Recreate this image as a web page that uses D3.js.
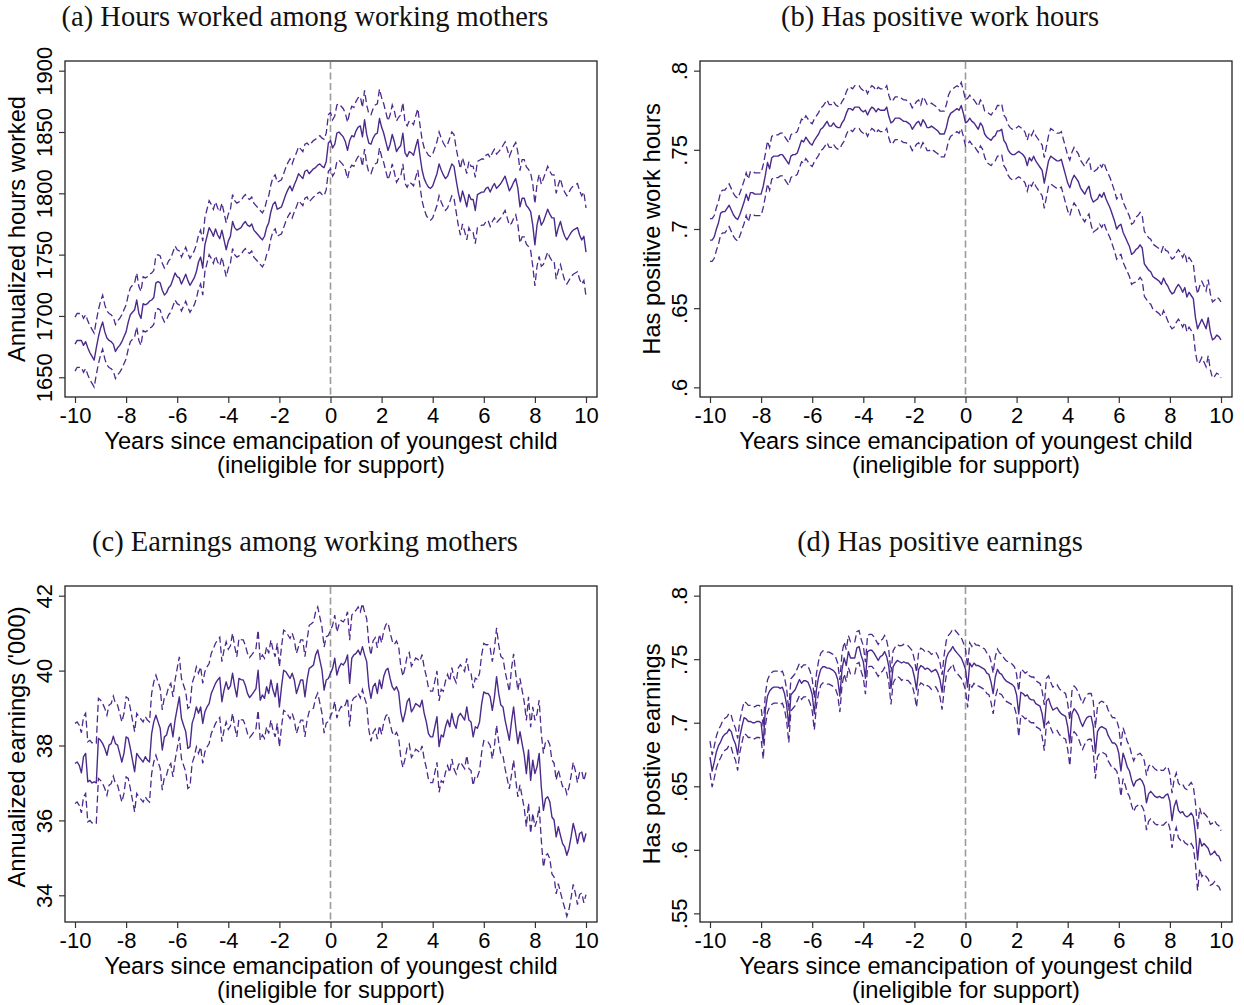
<!DOCTYPE html>
<html>
<head>
<meta charset="utf-8">
<script src="https://cdn.jsdelivr.net/npm/d3@7"></script>
<style>
  html, body { margin: 0; padding: 0; background: #fff; }
  svg { display: block; }
</style>
</head>
<body>
<svg id="fig" width="1244" height="1005"></svg>
<script>
// Event time in months around the youngest child's emancipation (-10 .. +10 years).
const months = d3.range(-120, 121);

// x-axis ticks (years)
const yearTicks = [-10, -8, -6, -4, -2, 0, 2, 4, 6, 8, 10];

// (a) Annualized hours worked among working mothers: estimate and 95% CI half-width
const hoursEst = [
  1677,1680,1680,1680,1676,1679,1674,1670,1667,1664,
  1674,1683,1690,1695,1687,1682,1680,1679,1677,1671,
  1674,1676,1679,1683,1687,1695,1701,1703,1705,1713,
  1702,1698,1710,1709,1710,1712,1713,1715,1727,1728,
  1727,1721,1717,1719,1723,1725,1730,1735,1732,1731,
  1726,1730,1734,1729,1725,1728,1731,1736,1744,1748,
  1739,1758,1765,1772,1769,1765,1771,1766,1763,1770,
  1762,1754,1761,1765,1777,1772,1770,1771,1772,1775,
  1777,1774,1773,1775,1770,1768,1766,1764,1762,1765,
  1772,1776,1785,1791,1793,1787,1788,1789,1794,1799,
  1803,1806,1802,1807,1811,1816,1814,1812,1818,1819,
  1816,1818,1820,1821,1823,1824,1822,1821,1826,1841,
  1843,1837,1840,1849,1850,1848,1846,1842,1835,1843,
  1847,1846,1851,1854,1855,1846,1860,1848,1841,1840,
  1845,1848,1849,1861,1854,1849,1842,1835,1840,1848,
  1842,1834,1837,1839,1849,1833,1830,1834,1833,1831,
  1838,1844,1831,1819,1812,1808,1805,1804,1806,1811,
  1816,1824,1819,1815,1812,1814,1819,1824,1822,1811,
  1801,1793,1802,1796,1789,1799,1795,1795,1786,1799,
  1800,1801,1801,1804,1805,1801,1805,1808,1804,1806,
  1808,1811,1814,1808,1802,1805,1809,1812,1804,1789,
  1796,1796,1790,1788,1785,1774,1758,1774,1782,1774,
  1777,1782,1787,1783,1780,1780,1765,1772,1777,1770,
  1765,1762,1765,1768,1770,1771,1772,1766,1762,1765,
  1752
];
const hoursCI = [
  22,22,22,22,22,22,22,22,22,22,22,22,22,22,22,22,22,22,22,22,
  22,22,22,22,22,22,22,22,22,22,22,22,22,22,22,22,22,22,22,22,
  22,22,22,22,22,22,22,22,22,22,22,22,22,22,22,22,22,22,22,22,
  22,22,22,22,22,22,22,22,22,22,22,22,22,22,22,22,22,22,22,22,
  22,22,22,22,22,22,22,22,22,22,22,22,22,22,22,22,22,22,22,22,
  22,22,22,22,22,22,22,22,22,22,23,23,23,23,23,23,23,23,23,23,
  23,23,23,23,23,23,23,23,23,23,24,24,24,24,24,24,24,24,24,24,
  24,24,24,24,24,24,24,24,24,24,25,25,25,25,25,25,25,25,25,25,
  25,25,25,25,25,26,26,26,26,26,26,26,26,26,26,26,26,26,26,26,
  27,27,27,27,27,27,27,27,27,27,27,27,27,27,27,28,28,28,28,28,
  28,28,28,28,28,29.5,29.5,29.5,29.5,29.5,31.5,31.5,31.5,31.5,31.5,33.5,33.5,33.5,33.5,33.5,
  35,35,35,35,35,35,35,35,35,35,36,36,36,36,36,36,36,36,36,36,
  36
];

// (b) Share with positive work hours
const workEst = [
  .693,.693,.695,.700,.704,.710,.711,.711,.713,.715,
  .712,.709,.707,.706,.709,.713,.717,.722,.718,.723,
  .723,.722,.722,.722,.722,.727,.734,.742,.738,.745,
  .746,.746,.746,.747,.747,.745,.743,.741,.746,.747,
  .747,.748,.752,.756,.755,.758,.756,.754,.753,.756,
  .758,.760,.763,.764,.766,.768,.765,.765,.767,.765,
  .764,.764,.767,.769,.773,.776,.776,.775,.777,.777,
  .777,.775,.774,.775,.772,.775,.777,.776,.774,.776,
  .775,.775,.775,.777,.771,.767,.768,.770,.770,.770,
  .769,.768,.768,.767,.766,.763,.765,.767,.768,.765,
  .769,.767,.764,.764,.765,.764,.763,.762,.760,.760,
  .760,.764,.770,.773,.774,.775,.776,.775,.778,.773,
  .767,.768,.770,.768,.767,.765,.763,.767,.765,.760,
  .758,.757,.756,.758,.759,.762,.762,.763,.756,.754,
  .750,.748,.747,.747,.748,.749,.748,.747,.745,.740,
  .745,.743,.746,.743,.741,.739,.737,.729,.736,.743,
  .746,.745,.744,.743,.743,.744,.739,.734,.729,.726,
  .731,.734,.732,.730,.726,.724,.722,.725,.727,.720,
  .717,.718,.719,.722,.720,.723,.719,.716,.713,.709,
  .705,.700,.702,.703,.698,.695,.692,.689,.684,.685,
  .687,.688,.690,.688,.678,.676,.674,.673,.670,.669,
  .668,.667,.665,.669,.666,.664,.661,.659,.660,.663,
  .665,.663,.660,.663,.657,.660,.658,.656,.644,.637,
  .640,.643,.640,.637,.644,.635,.630,.631,.633,.632,
  .630
];
const workCI = [
  .0135,.0135,.0135,.0135,.0135,.0135,.0135,.0135,.0135,.0135,.0135,.0135,.0135,.0135,.0135,.0135,.0135,.0135,.0135,.0135,
  .0135,.0135,.0135,.0135,.0135,.0135,.0135,.0135,.0135,.0135,.0135,.0135,.0135,.0135,.0135,.0135,.0135,.0135,.0135,.0135,
  .0135,.0135,.0135,.0135,.0135,.0135,.0135,.0135,.0135,.0135,.0135,.0135,.0135,.0135,.0135,.0135,.0135,.0135,.0135,.0135,
  .0135,.0135,.0135,.0135,.0135,.0135,.0135,.0135,.0135,.0135,.0135,.0135,.0135,.0135,.0135,.0135,.0135,.0135,.0135,.0135,
  .0135,.0135,.0135,.0135,.0135,.0135,.0135,.0135,.0135,.0135,.0135,.0135,.0135,.0135,.0135,.0135,.0135,.0135,.0135,.0135,
  .0145,.0145,.0145,.0145,.0145,.0145,.0145,.0145,.0145,.0145,.0145,.0145,.0145,.0145,.0145,.0145,.0145,.0145,.0145,.0145,
  .0145,.0145,.0145,.0145,.0145,.0145,.0145,.0145,.0145,.0145,.016,.016,.016,.016,.016,.016,.016,.016,.016,.016,
  .016,.016,.016,.016,.016,.016,.016,.016,.016,.016,.016,.016,.016,.016,.016,.016,.016,.016,.016,.016,
  .0175,.0175,.0175,.0175,.0175,.0175,.0175,.0175,.0175,.0175,.0175,.0175,.0175,.0175,.0175,.0175,.0175,.0175,.0175,.0175,
  .019,.019,.019,.019,.019,.019,.019,.019,.019,.019,.019,.019,.019,.019,.019,.019,.019,.019,.019,.019,
  .0205,.0205,.0205,.0205,.0205,.0205,.0205,.0205,.0205,.0205,.0205,.0205,.0205,.0205,.0205,.022,.022,.022,.022,.022,
  .022,.022,.022,.022,.022,.022,.022,.022,.022,.022,.024,.024,.024,.024,.024,.024,.024,.024,.024,.024,
  .024
];

// (c) Annualized earnings among working mothers ('000)
const earnEst = [
  37.52,37.56,37.47,37.27,37.70,37.79,37.03,37.07,37.00,37.03,
  37.00,38.19,38.14,38.05,37.92,37.74,38.01,38.05,38.25,38.05,
  38.01,37.79,37.56,37.79,38.23,38.19,37.92,37.61,37.30,37.79,
  37.70,37.63,37.56,37.70,37.61,37.56,38.32,38.63,38.81,38.63,
  38.46,37.88,38.23,38.28,38.50,38.59,38.23,38.68,38.99,39.30,
  38.72,38.54,38.37,37.92,37.97,38.59,38.77,39.03,38.86,39.03,
  38.59,38.90,39.03,39.12,39.39,39.52,39.66,39.75,39.82,39.17,
  39.48,39.70,39.50,39.59,39.93,39.57,39.30,39.79,39.76,39.75,
  39.61,39.39,39.28,39.35,39.43,39.52,40.01,39.21,39.35,39.26,
  39.57,39.39,39.75,39.48,39.30,39.66,39.03,39.57,40.01,39.97,
  39.88,39.79,39.93,39.75,39.39,39.57,39.75,39.75,39.30,39.75,
  40.06,40.10,40.15,40.42,40.55,40.28,40.01,39.48,39.75,39.79,
  39.93,40.06,40.33,39.88,40.08,40.19,40.15,40.24,40.42,39.66,
  40.33,40.42,40.46,40.55,40.42,40.64,40.42,40.24,39.57,39.26,
  39.57,39.66,39.39,39.75,39.52,39.84,40.01,40.06,39.79,39.57,
  39.48,39.57,39.43,38.90,38.63,38.86,39.17,39.26,38.90,38.99,
  39.12,39.08,39.03,39.21,38.86,38.63,38.32,38.23,38.23,38.50,
  38.77,37.97,38.28,38.23,38.50,38.68,38.50,38.86,38.59,38.46,
  38.77,38.86,38.77,38.68,39.03,38.68,38.63,38.23,38.50,38.46,
  38.63,39.12,39.43,39.39,39.39,39.30,38.94,39.30,39.84,39.39,
  39.08,39.03,38.68,38.41,38.14,38.63,39.03,38.50,38.05,38.37,
  38.05,37.74,37.25,37.88,37.07,37.61,37.25,37.43,37.79,36.90,
  36.27,36.58,36.63,36.50,36.09,36.01,35.56,35.83,35.60,35.38,
  35.29,35.07,35.25,35.56,35.92,35.69,35.38,35.65,35.69,35.43,
  35.65
];
const earnCI = [
  1.07,1.07,1.07,1.07,1.07,1.07,1.07,1.07,1.07,1.07,1.07,1.07,1.07,1.07,1.07,1.07,1.07,1.07,1.07,1.07,
  1.07,1.07,1.07,1.07,1.07,1.07,1.07,1.07,1.07,1.07,1.07,1.07,1.07,1.07,1.07,1.07,1.07,1.07,1.07,1.07,
  1.07,1.07,1.07,1.07,1.07,1.07,1.07,1.07,1.07,1.07,1.07,1.07,1.07,1.07,1.07,1.07,1.07,1.07,1.07,1.07,
  1.07,1.07,1.07,1.07,1.07,1.07,1.07,1.07,1.07,1.07,1.07,1.07,1.07,1.07,1.07,1.07,1.07,1.07,1.07,1.07,
  1.07,1.07,1.07,1.07,1.07,1.07,1.07,1.07,1.07,1.07,1.07,1.07,1.07,1.07,1.07,1.07,1.07,1.07,1.07,1.07,
  1.07,1.07,1.07,1.07,1.07,1.07,1.07,1.07,1.07,1.07,1.15,1.15,1.15,1.15,1.15,1.15,1.15,1.15,1.15,1.15,
  1.15,1.15,1.15,1.15,1.15,1.15,1.15,1.15,1.15,1.15,1.15,1.15,1.15,1.15,1.15,1.15,1.15,1.15,1.15,1.15,
  1.22,1.22,1.22,1.22,1.22,1.22,1.22,1.22,1.22,1.22,1.22,1.22,1.22,1.22,1.22,1.22,1.22,1.22,1.22,1.22,
  1.22,1.22,1.22,1.22,1.22,1.22,1.22,1.22,1.22,1.22,1.22,1.22,1.22,1.22,1.22,1.22,1.22,1.22,1.22,1.22,
  1.30,1.30,1.30,1.30,1.30,1.30,1.30,1.30,1.30,1.30,1.30,1.30,1.30,1.30,1.30,1.30,1.30,1.30,1.30,1.30,
  1.30,1.30,1.30,1.30,1.30,1.42,1.42,1.42,1.42,1.42,1.42,1.42,1.42,1.42,1.42,1.42,1.42,1.42,1.42,1.42,
  1.52,1.52,1.52,1.52,1.52,1.52,1.52,1.52,1.52,1.52,1.63,1.63,1.63,1.63,1.63,1.63,1.63,1.63,1.63,1.63,
  1.63
];

// (d) Share with positive earnings
const posEarnEst = [
  .673,.662,.669,.677,.682,.685,.689,.691,.692,.695,
  .693,.687,.683,.675,.689,.697,.704,.703,.701,.701,
  .700,.700,.701,.701,.700,.684,.710,.721,.725,.727,
  .728,.728,.728,.727,.728,.723,.714,.697,.722,.724,
  .726,.730,.734,.731,.733,.733,.732,.728,.722,.707,
  .726,.736,.742,.744,.744,.743,.743,.742,.741,.739,
  .734,.721,.742,.751,.745,.756,.751,.751,.751,.759,
  .760,.753,.748,.735,.756,.757,.757,.755,.752,.749,
  .752,.753,.756,.752,.744,.727,.744,.747,.749,.748,
  .747,.748,.747,.747,.745,.743,.736,.726,.742,.745,
  .744,.742,.743,.742,.740,.741,.742,.739,.734,.724,
  .740,.751,.755,.757,.760,.757,.755,.753,.751,.747,
  .742,.728,.747,.744,.747,.745,.745,.744,.743,.742,
  .739,.738,.732,.723,.736,.742,.739,.738,.735,.733,
  .732,.731,.730,.728,.722,.707,.724,.723,.721,.722,
  .719,.718,.718,.715,.714,.713,.707,.696,.717,.719,
  .714,.710,.711,.712,.709,.707,.706,.705,.697,.684,
  .707,.711,.709,.706,.701,.697,.701,.704,.705,.705,
  .697,.676,.693,.696,.697,.696,.695,.690,.687,.684,
  .684,.682,.676,.662,.676,.671,.665,.662,.655,.650,
  .654,.655,.656,.654,.650,.637,.644,.646,.644,.642,
  .641,.642,.641,.641,.643,.644,.638,.623,.634,.639,
  .631,.629,.630,.627,.626,.627,.629,.626,.613,.592,
  .609,.603,.605,.603,.601,.596,.597,.599,.596,.595,
  .591
];
const posEarnCI = [
  .0126,.0126,.0126,.0126,.0126,.0126,.0126,.0126,.0126,.0126,.0126,.0126,.0126,.0126,.0126,.0126,.0126,.0126,.0126,.0126,
  .0126,.0126,.0126,.0126,.0126,.0126,.0126,.0126,.0126,.0126,.0126,.0126,.0126,.0126,.0126,.0126,.0126,.0126,.0126,.0126,
  .0126,.0126,.0126,.0126,.0126,.0126,.0126,.0126,.0126,.0126,.0126,.0126,.0126,.0126,.0126,.0126,.0126,.0126,.0126,.0126,
  .0126,.0126,.0126,.0126,.0126,.0126,.0126,.0126,.0126,.0126,.0126,.0126,.0126,.0126,.0126,.0126,.0126,.0126,.0126,.0126,
  .0126,.0126,.0126,.0126,.0126,.0126,.0126,.0126,.0126,.0126,.0137,.0137,.0137,.0137,.0137,.0137,.0137,.0137,.0137,.0137,
  .0137,.0137,.0137,.0137,.0137,.0137,.0137,.0137,.0137,.0137,.0137,.0137,.0137,.0137,.0137,.016,.016,.016,.016,.016,
  .016,.016,.016,.016,.016,.016,.016,.016,.016,.016,.016,.016,.016,.016,.016,.016,.016,.016,.016,.016,
  .016,.016,.016,.016,.016,.018,.018,.018,.018,.018,.018,.018,.018,.018,.018,.018,.018,.018,.018,.018,
  .018,.018,.018,.018,.018,.018,.018,.018,.018,.018,.018,.018,.018,.018,.018,.018,.018,.018,.018,.018,
  .020,.020,.020,.020,.020,.020,.020,.020,.020,.020,.020,.020,.020,.020,.020,.020,.020,.020,.020,.020,
  .020,.020,.020,.020,.020,.0215,.0215,.0215,.0215,.0215,.0215,.0215,.0215,.0215,.0215,.0215,.0215,.0215,.0215,.0215,
  .0215,.0215,.0215,.0215,.0215,.024,.024,.024,.024,.024,.024,.024,.024,.024,.024,.024,.024,.024,.024,.024,
  .024
];

// y-axis tick values per panel
const hoursTicks = [1650, 1700, 1750, 1800, 1850, 1900];
const workTicks = [0.6, 0.65, 0.7, 0.75, 0.8];
const earnTicks = [34, 36, 38, 40, 42];
const posEarnTicks = [0.55, 0.6, 0.65, 0.7, 0.75, 0.8];

// Stata-style leading-dot format for shares
const dotFmt = d => String(+d.toFixed(2)).replace(/^0\./, ".");

const panels = [
  { title: "(a) Hours worked among working mothers", yTitle: "Annualized hours worked",
    est: hoursEst, ci: hoursCI, ticks: hoursTicks, fmt: d => String(d),
    yDomain: [1633.9, 1907.9], left: 65, top: 61, titleX: 305, yTitleShift: 0 },
  { title: "(b) Has positive work hours", yTitle: "Has positive work hours",
    est: workEst, ci: workCI, ticks: workTicks, fmt: dotFmt,
    yDomain: [0.5939, 0.8061], left: 700, top: 61, titleX: 940, yTitleShift: 0 },
  { title: "(c) Earnings among working mothers", yTitle: "Annualized earnings ('000)",
    est: earnEst, ci: earnCI, ticks: earnTicks, fmt: d => String(d),
    yDomain: [33.287, 42.259], left: 65, top: 586, titleX: 305, yTitleShift: -7 },
  { title: "(d) Has positive earnings", yTitle: "Has postive earnings",
    est: posEarnEst, ci: posEarnCI, ticks: posEarnTicks, fmt: dotFmt,
    yDomain: [0.5432, 0.8076], left: 700, top: 586, titleX: 940, yTitleShift: 0 }
];

const W = 532, H = 336;
const lineColor = "#4b2a8c";
const sans = "'Liberation Sans', Arial, Helvetica, sans-serif";
const serif = "'Liberation Serif', 'Times New Roman', serif";
const tickFont = 22, titleFont = 23.7;

const svg = d3.select("#fig");
svg.append("rect").attr("width", 1244).attr("height", 1005).attr("fill", "#fff");

panels.forEach(p => {
  const x = d3.scaleLinear().domain([-10, 10]).range([p.left + 10, p.left + 521]);
  const y = d3.scaleLinear().domain(p.yDomain).range([p.top + H, p.top]);
  const g = svg.append("g");

  // panel title
  g.append("text")
    .attr("x", p.titleX).attr("y", p.top - 35)
    .attr("text-anchor", "middle")
    .attr("font-family", serif).attr("font-size", 28.5)
    .attr("fill", "#111")
    .text(p.title);

  // plot region frame
  g.append("rect")
    .attr("x", p.left).attr("y", p.top).attr("width", W).attr("height", H)
    .attr("fill", "#fff").attr("stroke", "#222").attr("stroke-width", 1.3);

  // reference line at emancipation
  g.append("line")
    .attr("x1", x(0)).attr("x2", x(0))
    .attr("y1", p.top + 1).attr("y2", p.top + H - 1)
    .attr("stroke", "#9a9a9a").attr("stroke-width", 1.6)
    .attr("stroke-dasharray", "7,3.5");

  const rows = months.map((m, i) => ({ t: m / 12, v: p.est[i], h: p.ci[i] }));
  const path = acc => d3.line().x(d => x(d.t)).y(d => y(acc(d)));

  // 95% confidence bounds
  [d => d.v + d.h, d => d.v - d.h].forEach(acc => {
    g.append("path").datum(rows)
      .attr("d", path(acc))
      .attr("fill", "none").attr("stroke", lineColor)
      .attr("stroke-width", 1.3).attr("stroke-dasharray", "7,3.5");
  });
  // point estimate
  g.append("path").datum(rows)
    .attr("d", path(d => d.v))
    .attr("fill", "none").attr("stroke", lineColor)
    .attr("stroke-width", 1.4).attr("stroke-linejoin", "round");

  // x axis
  const xa = g.append("g").attr("transform", `translate(0,${p.top + H})`)
    .call(d3.axisBottom(x).tickValues(yearTicks).tickSize(6).tickPadding(4).tickFormat(d => String(d)));
  xa.select(".domain").remove();
  xa.selectAll("line").attr("stroke", "#333").attr("stroke-width", 1.2);
  xa.selectAll("text").attr("font-family", sans).attr("font-size", tickFont).attr("fill", "#000");

  // y axis with rotated labels
  const ya = g.append("g").attr("transform", `translate(${p.left},0)`)
    .call(d3.axisLeft(y).tickValues(p.ticks).tickSize(6).tickFormat(p.fmt));
  ya.select(".domain").remove();
  ya.selectAll("line").attr("stroke", "#333").attr("stroke-width", 1.2);
  ya.selectAll("text")
    .attr("x", null).attr("dy", null)
    .attr("text-anchor", "middle")
    .attr("transform", "translate(-13,0) rotate(-90)")
    .attr("font-family", sans).attr("font-size", tickFont).attr("fill", "#000");

  // y title
  g.append("text")
    .attr("transform", `translate(${p.left - 40},${p.top + H / 2 + p.yTitleShift}) rotate(-90)`)
    .attr("text-anchor", "middle")
    .attr("font-family", sans).attr("font-size", titleFont).attr("fill", "#000")
    .text(p.yTitle);

  // x title (two lines)
  const cx = p.left + W / 2;
  g.append("text")
    .attr("x", cx).attr("y", p.top + H + 52)
    .attr("text-anchor", "middle")
    .attr("font-family", sans).attr("font-size", titleFont).attr("fill", "#000")
    .text("Years since emancipation of youngest child");
  g.append("text")
    .attr("x", cx).attr("y", p.top + H + 76)
    .attr("text-anchor", "middle")
    .attr("font-family", sans).attr("font-size", titleFont).attr("fill", "#000")
    .text("(ineligible for support)");
});
</script>
</body>
</html>
